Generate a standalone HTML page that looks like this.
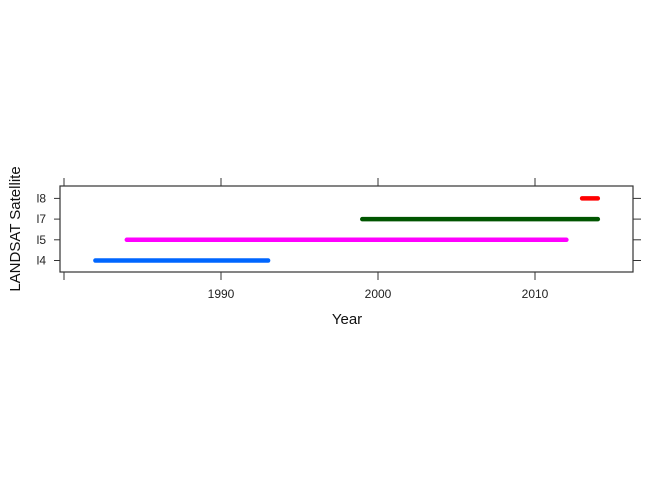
<!DOCTYPE html>
<html><head><meta charset="utf-8"><style>body{margin:0;background:#fff}svg{display:block;font-family:"Liberation Sans",Arial,sans-serif}</style></head>
<body>
<svg id="c" width="672" height="480"></svg>
<script>
const categories=["l4","l5","l7","l8"];
const startYears=[1982,1984,1999,2013];
const endYears=[1993,2012,2014,2014];
const colors=["#0066ff","#ff00ff","#005500","#ff0000"];
const xTicks=[1980,1990,2000,2010];
const xTickLabels=["","1990","2000","2010"];
const NS="http://www.w3.org/2000/svg";
const svg=document.getElementById('c');
const L=60,R=633,T=186,B=272;
const x=v=>64+(v-1980)*(535-64)/30;
const y=i=>260.5-i*20.7;
function mk(t,a,p){const e=document.createElementNS(NS,t);for(const k in a)e.setAttribute(k,a[k]);(p||svg).appendChild(e);return e;}
const box=mk('rect',{x:L,y:T,width:R-L,height:B-T,fill:'none',stroke:'#333','stroke-width':1.2});


xTicks.forEach((v,i)=>{
  const t1=mk('line',{x1:x(v),x2:x(v),y1:T-8,y2:T,stroke:'#333'});
  
  
  const t2=mk('line',{x1:x(v),x2:x(v),y1:B,y2:B+8,stroke:'#333'});
  
  
  if(xTickLabels[i]){const tx=mk('text',{x:x(v),y:B+26,'text-anchor':'middle','font-size':12,fill:'#222'});tx.textContent=xTickLabels[i];
  
  }
});
categories.forEach((c,i)=>{
  const a=mk('line',{x1:L-6,x2:L,y1:y(i),y2:y(i),stroke:'#333'});
  
  
  const b=mk('line',{x1:R,x2:R+8,y1:y(i),y2:y(i),stroke:'#333'});
  
  
  const t=mk('text',{x:L-14,y:y(i)+4,'text-anchor':'end','font-size':12,fill:'#222'});t.textContent=c;
  
  
  const s=mk('line',{x1:x(startYears[i]),x2:x(endYears[i]),y1:y(i),y2:y(i),stroke:colors[i],'stroke-width':4.5,'stroke-linecap':'round'});
  
  
});
const xt=mk('text',{x:347,y:324,'text-anchor':'middle','font-size':15,fill:'#111'});xt.textContent='Year';


const yt=mk('text',{x:20,y:229,'text-anchor':'middle','font-size':15,fill:'#111',transform:'rotate(-90 20 229)'});yt.textContent='LANDSAT Satellite';


</script>
</body></html>
